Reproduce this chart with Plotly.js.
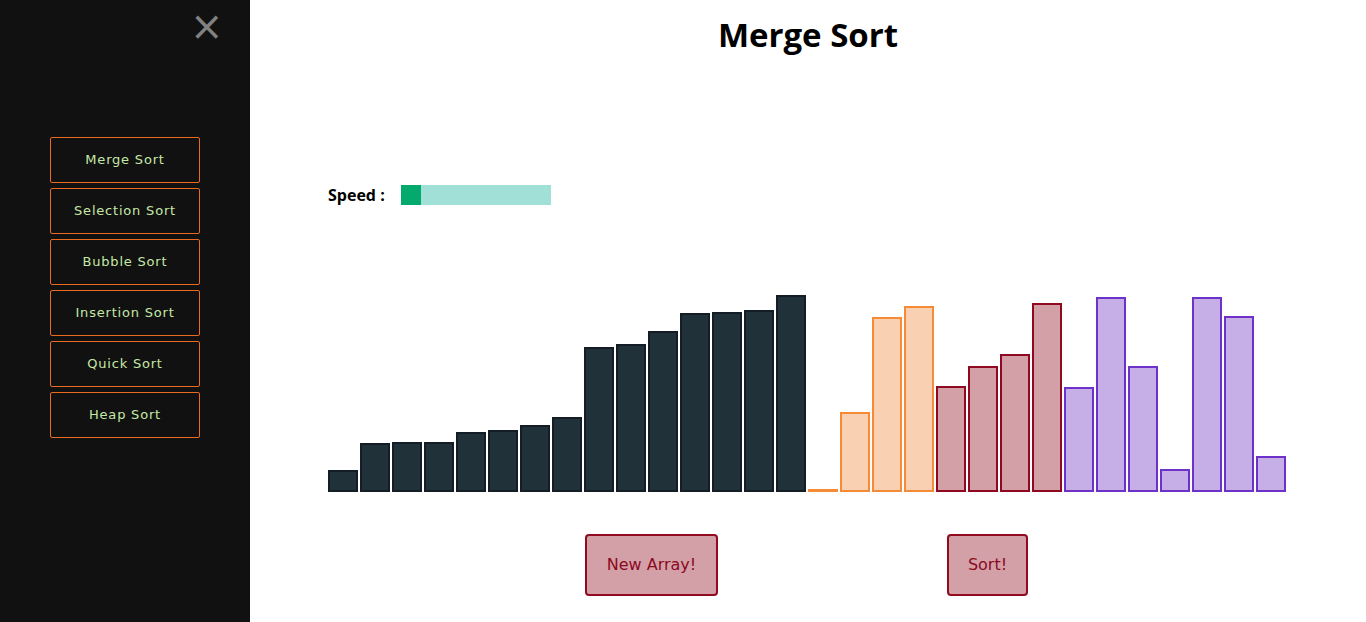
<!DOCTYPE html>
<html>
<head>
<meta charset="utf-8">
<script src="https://cdn.plot.ly/plotly-3.0.1.min.js"></script>
<style>
    body { margin: 0; width: 1366px; height: 622px; overflow: hidden; background: #fff; font-family: "DejaVu Sans", sans-serif; }
    #sidenav { position: absolute; left: 0; top: 0; width: 250px; height: 622px; background: #111; }
    #closebtn { position: absolute; left: 190px; top: 2px; font-size: 40px; color: #818181; line-height: 48px; }
    .algo { position: absolute; left: 50px; width: 148px; height: 44px; border: 1px solid #ea6a1f; border-radius: 2px;
            color: #c6e8a6; font-size: 13px; letter-spacing: 0.8px; text-align: center; line-height: 44px; }
    #title { position: absolute; left: 250px; width: 1116px; top: 12px; text-align: center;
             font-family: "Open Sans", sans-serif; font-weight: 700; font-size: 33px; color: #000; }
    #speed_label { position: absolute; left: 328px; top: 184px; font-family: "Open Sans", sans-serif; font-weight: 700; font-size: 16px; }
    #speed_track { position: absolute; left: 401px; top: 185px; width: 150px; height: 20px; background: #a0e0d6; }
    #speed_thumb { position: absolute; left: 401px; top: 185px; width: 20px; height: 20px; background: #04aa6d; }
    .btn { position: absolute; top: 534px; height: 58px; background: #d4a0a8; border: 2px solid #900a20; border-radius: 4px;
           color: #8a0a1e; font-size: 16px; text-align: center; line-height: 58px; }
    #bars { position: absolute; left: 327px; top: 249px; width: 960px; height: 244px; }
</style>
</head>
<body>
<div id="sidenav">
    <div id="closebtn">&times;</div>
</div>
<div id="title">Merge Sort</div>
<div id="speed_label">Speed :</div>
<div id="speed_track"></div>
<div id="speed_thumb"></div>
<div id="bars"></div>
<div class="btn" style="left:585px; width:129px;">New Array!</div>
<div class="btn" style="left:947px; width:77px;">Sort!</div>

<script>
var algo_names = ["Merge Sort", "Selection Sort", "Bubble Sort", "Insertion Sort", "Quick Sort", "Heap Sort"]
var bar_values = [20, 47, 48, 48, 58, 60, 65, 73, 143, 146, 159, 177, 178, 180, 195,
                  1, 78, 173, 184, 104, 124, 136, 187,
                  103, 193, 124, 21, 193, 174, 34]
var bar_states = ["sorted", "sorted", "sorted", "sorted", "sorted", "sorted", "sorted", "sorted",
                  "sorted", "sorted", "sorted", "sorted", "sorted", "sorted", "sorted",
                  "left", "left", "left", "left", "right", "right", "right", "right",
                  "pending", "pending", "pending", "pending", "pending", "pending", "pending"]

var fill_colors = {sorted: "#21313a", left: "#fad0b2", right: "#d4a0a8", pending: "#c5afe6"}
var line_colors = {sorted: "#141d25", left: "#f68b37", right: "#8f0a20", pending: "#6f32c8"}

// sidebar buttons
nav = document.getElementById("sidenav")
for (i = 0; i < algo_names.length; i++) {
    b = document.createElement("div")
    b.className = "algo"
    b.style.top = (137 + i * 51) + "px"
    b.innerHTML = algo_names[i]
    nav.appendChild(b)
}

function load_bars() {
    idx = [], fills = [], lines = []
    for (i = 0; i < bar_values.length; i++) {
        idx.push(i)
        fills.push(fill_colors[bar_states[i]])
        lines.push(line_colors[bar_states[i]])
    }

    var trace1 = {
        x: idx,
        y: bar_values,
        type: 'bar',
        marker: {
            color: fills,
            line: {color: lines, width: 2},
        },
        hoverinfo: 'skip',
    };

    var layout = {
        width: 960,
        height: 244,
        margin: {t: 0, l: 0, r: 0, b: 0, pad: 0},
        bargap: 0.125,
        showlegend: false,
        paper_bgcolor: 'transparent',
        plot_bgcolor: 'transparent',
        xaxis: {visible: false, range: [-0.5, bar_values.length - 0.5], fixedrange: true},
        yaxis: {visible: false, range: [-2, 242], fixedrange: true},
    };

    Plotly.newPlot('bars', [trace1], layout, {displayModeBar: false, staticPlot: true});
}
load_bars()
</script>
</body>
</html>
